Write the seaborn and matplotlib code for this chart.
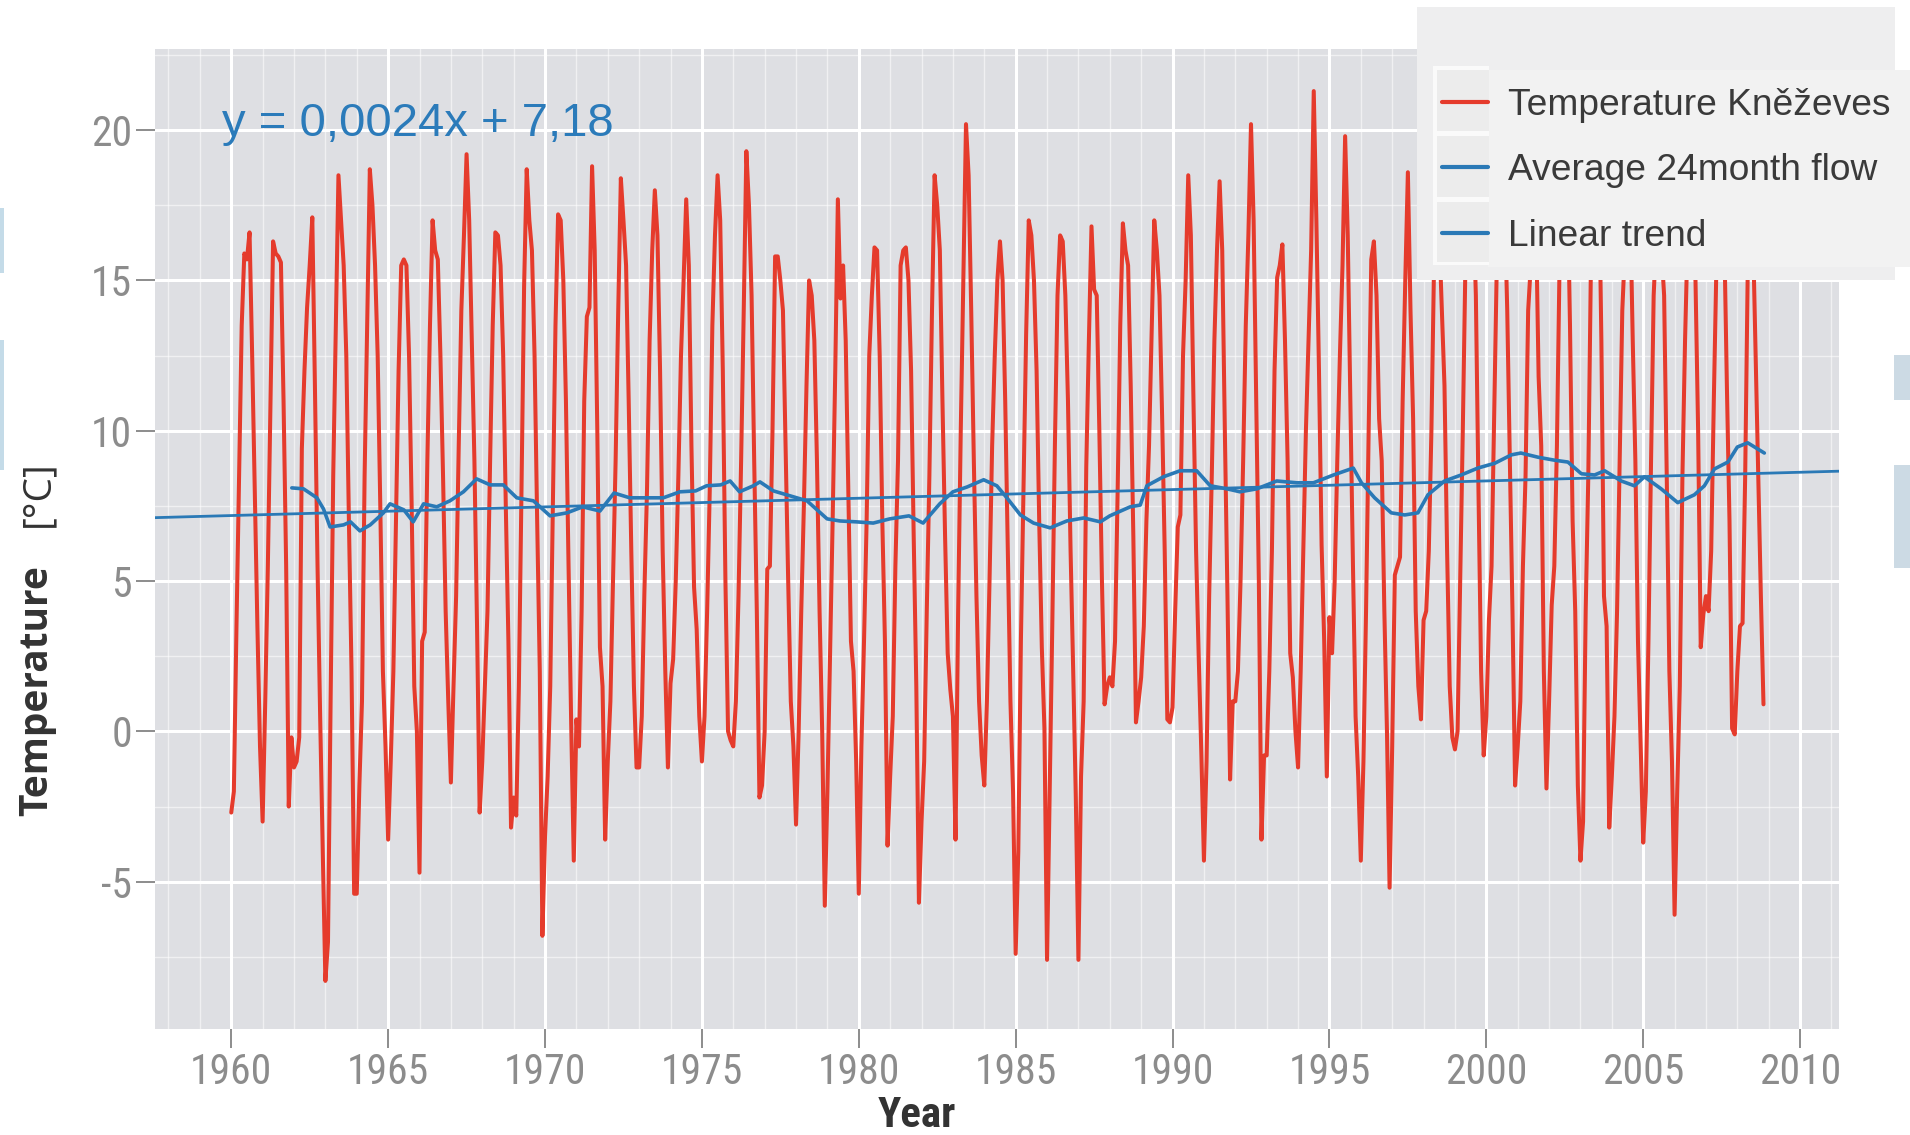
import matplotlib
matplotlib.use("Agg")
import numpy as np
import pandas as pd
import matplotlib.pyplot as plt
import seaborn as sns
from matplotlib import font_manager
from matplotlib.patches import Rectangle

# ---------------- data (monthly mean temperature, Jan 1960 .. Nov 2008) ----------------
START_YEAR = 1960

temp_1960s = [
    -2.7, -2.0, 3.5, 8.5, 13.5, 15.9, 15.7, 16.6, 12.5, 8.0, 3.5, -0.5,
    -3.0, 1.0, 5.5, 10.8, 16.3, 15.9, 15.8, 15.6, 11.0, 5.5, -2.5, -0.2,
    -1.2, -1.0, -0.2, 9.4, 12.0, 14.1, 15.5, 17.1, 11.5, 5.5, 0.5, -4.0,
    -8.3, -7.0, 1.0, 8.5, 13.5, 18.5, 17.0, 15.5, 12.5, 7.0, 2.0, -5.4,
    -5.4, -1.8, 1.0, 8.5, 13.5, 18.7, 17.5, 15.5, 12.5, 7.5, 2.0, -0.5,
    -3.6, -1.0, 2.0, 7.0, 12.0, 15.5, 15.7, 15.5, 12.5, 7.5, 1.5, 0.0,
    -4.7, 3.0, 3.3, 9.0, 13.5, 17.0, 16.0, 15.7, 12.5, 8.5, 4.0, 1.0,
    -1.7, 1.5, 4.5, 9.5, 14.0, 16.5, 19.2, 17.0, 13.0, 9.0, 3.5, -2.7,
    -1.0, 1.5, 4.0, 9.0, 13.5, 16.6, 16.5, 15.5, 12.5, 7.5, 3.0, -3.2,
    -2.2, -2.8, 1.5, 8.0, 14.8, 18.7, 17.0, 16.0, 12.5, 7.0, 2.0, -6.8,
]
temp_1970s = [
    -3.5, -1.5, 1.5, 7.5, 13.5, 17.2, 17.0, 15.0, 11.0, 5.5, 0.3, -4.3,
    0.4, -0.5, 4.0, 11.0, 13.8, 14.1, 18.8, 16.0, 10.0, 2.8, 1.5, -3.6,
    -1.0, 1.0, 5.0, 9.0, 14.0, 18.4, 17.0, 15.5, 11.0, 6.0, 1.5, -1.2,
    -1.2, 0.5, 4.6, 8.0, 13.0, 16.0, 18.0, 16.5, 12.0, 6.0, 2.0, -1.2,
    1.6, 2.4, 5.0, 8.5, 12.5, 15.0, 17.7, 15.5, 9.5, 4.8, 3.4, 0.5,
    -1.0, 0.5, 4.0, 8.0, 13.5, 16.5, 18.5, 17.0, 12.0, 5.0, 0.0, -0.3,
    -0.5, 1.0, 4.5, 9.0, 14.0, 19.3, 17.5, 14.5, 9.0, 4.0, -2.2, -1.8,
    0.0, 5.4, 5.5, 10.0, 15.8, 15.8, 15.0, 14.0, 9.5, 5.0, 1.0, -0.5,
    -3.1, 0.0, 4.0, 7.5, 11.5, 15.0, 14.5, 13.0, 9.0, 4.0, 0.0, -5.8,
    -2.0, 2.5, 7.0, 12.0, 17.7, 14.4, 15.5, 13.0, 8.0, 3.0, 2.0, -1.0,
]
temp_1980s = [
    -5.4, -0.5, 3.0, 7.0, 12.5, 14.5, 16.1, 16.0, 12.5, 7.0, 3.0, -3.8,
    -1.5, 0.5, 5.5, 9.0, 15.5, 16.0, 16.1, 15.0, 12.0, 6.5, 1.5, -5.7,
    -3.0, -1.0, 4.0, 8.5, 14.0, 18.5, 17.5, 16.0, 11.0, 6.5, 2.6, 1.4,
    0.5, -3.6, 4.0, 10.0, 15.0, 20.2, 18.5, 14.0, 9.0, 4.5, 1.0, -0.8,
    -1.8, 1.0, 5.0, 9.5, 12.5, 15.0, 16.3, 15.0, 11.0, 6.0, 1.0, -2.0,
    -7.4, -4.0, 3.0, 8.0, 13.2, 17.0, 16.5, 15.0, 12.0, 7.0, 2.8, 0.1,
    -7.6, -2.0, 3.5, 9.5, 14.5, 16.5, 16.3, 14.5, 11.0, 6.0, 2.0, -2.2,
    -7.6, -1.5, 1.0, 8.8, 13.0, 16.8, 14.7, 14.5, 10.0, 5.0, 0.9, 1.5,
    1.8, 1.5, 3.0, 8.0, 13.5, 16.9, 16.0, 15.5, 11.5, 6.5, 0.3, 1.0,
    1.8, 3.5, 7.0, 9.5, 13.3, 17.0, 16.0, 14.5, 10.5, 6.0, 0.4, 0.3,
]
temp_1990s = [
    0.8, 4.0, 6.8, 7.2, 12.5, 15.0, 18.5, 16.5, 11.0, 6.0, 2.5, -0.7,
    -4.3, -1.0, 4.5, 8.5, 13.0, 16.0, 18.3, 16.0, 10.0, 4.5, -1.6, 1.0,
    1.0, 2.0, 5.0, 9.0, 13.5, 16.5, 20.2, 17.0, 11.0, 5.0, -3.6, -0.8,
    -0.8, 2.0, 6.0, 12.0, 15.1, 15.5, 16.2, 13.0, 9.0, 2.6, 1.8, 0.0,
    -1.2, 2.0, 6.0, 10.0, 13.0, 16.0, 21.3, 17.0, 12.0, 6.2, 3.0, -1.5,
    3.8, 2.6, 5.0, 9.0, 12.5, 15.5, 19.8, 16.5, 11.0, 5.5, 0.5, -1.5,
    -4.3, -1.0, 4.0, 10.0, 15.7, 16.3, 14.5, 10.4, 9.0, 4.0, 0.0, -5.2,
    -0.5, 5.2, 5.5, 5.8, 11.0, 15.0, 18.6, 14.0, 10.4, 4.0, 1.5, 0.4,
    3.7, 4.0, 6.0, 10.0, 15.5, 17.0, 16.5, 14.0, 11.5, 6.0, 1.5, -0.2,
    -0.6, 0.0, 5.0, 10.0, 15.5, 17.0, 18.5, 17.5, 14.5, 8.0, 2.0, -0.8,
]
temp_2000s = [
    0.5, 3.7, 5.5, 10.5, 15.5, 17.5, 16.5, 17.5, 14.0, 9.0, 4.0, -1.8,
    -0.5, 1.0, 5.5, 8.5, 14.0, 15.5, 17.5, 17.0, 11.8, 9.5, 2.0, -1.9,
    1.0, 4.2, 5.5, 9.5, 15.5, 17.5, 18.0, 18.5, 13.5, 7.0, 4.0, -1.8,
    -4.3, -3.0, 4.0, 8.5, 15.5, 18.5, 18.0, 19.0, 13.0, 4.5, 3.5, -3.2,
    -1.5, 0.5, 4.0, 9.0, 14.0, 16.0, 17.0, 17.5, 13.0, 9.0, 3.0, -0.3,
    -3.7, -2.0, 3.0, 9.0, 14.5, 16.5, 17.5, 16.0, 14.5, 8.5, 2.0, -1.0,
    -6.1, -2.0, 1.5, 8.5, 13.0, 16.5, 20.0, 15.5, 15.0, 10.0, 2.8, 3.9,
    4.5, 4.0, 6.0, 11.0, 15.5, 17.5, 17.5, 16.5, 11.5, 7.0, 0.1, -0.1,
    2.0, 3.5, 3.6, 8.5, 15.5, 17.5, 16.5, 12.5, 8.5, 4.5, 0.9,
]

# 24-month moving average (decimal year, value)
avg_years = [
    1961.93, 1962.30, 1962.73, 1962.94, 1963.15, 1963.58, 1963.80, 1964.10, 1964.43, 1964.85,
    1965.06, 1965.50, 1965.80, 1966.13, 1966.55, 1966.97, 1967.40, 1967.82, 1968.25, 1968.67,
    1969.10, 1969.63, 1970.16, 1970.70, 1971.20, 1971.75, 1972.20, 1972.70, 1973.20, 1973.77,
    1974.30, 1974.80, 1975.15, 1975.60, 1975.90, 1976.20, 1976.64, 1976.85, 1977.28, 1977.70,
    1978.35, 1978.99, 1979.40, 1979.93, 1980.46, 1980.99, 1981.60, 1982.05, 1982.58, 1983.00,
    1983.45, 1983.98, 1984.40, 1984.72, 1985.15, 1985.57, 1986.10, 1986.63, 1987.17, 1987.70,
    1988.00, 1988.65, 1988.97, 1989.18, 1989.71, 1990.24, 1990.77, 1991.20, 1991.73, 1992.15,
    1992.69, 1993.32, 1993.96, 1994.49, 1995.13, 1995.76, 1996.02, 1996.44, 1996.97, 1997.40,
    1997.82, 1998.14, 1998.67, 1999.20, 1999.73, 2000.27, 2000.80, 2001.10, 2001.65, 2002.18,
    2002.60, 2003.03, 2003.45, 2003.77, 2004.30, 2004.72, 2005.04, 2005.57, 2006.10, 2006.63,
    2006.95, 2007.27, 2007.70, 2008.00, 2008.33, 2008.86,
]
avg_values = [
    8.10, 8.07, 7.77, 7.40, 6.80, 6.87, 6.97, 6.67, 6.87, 7.27,
    7.57, 7.37, 6.97, 7.57, 7.47, 7.67, 7.97, 8.40, 8.20, 8.20,
    7.77, 7.67, 7.17, 7.27, 7.47, 7.33, 7.93, 7.77, 7.77, 7.77,
    7.97, 8.00, 8.17, 8.20, 8.33, 7.97, 8.17, 8.30, 8.00, 7.87,
    7.67, 7.07, 7.00, 6.97, 6.93, 7.07, 7.17, 6.93, 7.57, 7.97,
    8.13, 8.37, 8.17, 7.77, 7.20, 6.93, 6.77, 7.00, 7.10, 6.97,
    7.17, 7.47, 7.53, 8.17, 8.47, 8.67, 8.67, 8.17, 8.07, 7.97,
    8.07, 8.33, 8.27, 8.27, 8.53, 8.76, 8.27, 7.77, 7.27, 7.20,
    7.27, 7.87, 8.33, 8.53, 8.76, 8.92, 9.20, 9.26, 9.12, 9.02,
    8.96, 8.57, 8.53, 8.67, 8.33, 8.17, 8.47, 8.07, 7.61, 7.87,
    8.17, 8.73, 8.96, 9.46, 9.60, 9.26,
]

# linear trend y = 0,0024x + 7,18 (x = months since Jan 1960)
trend_slope = 0.0024
trend_intercept = 7.18
trend_years = [1957.57, 2011.24]

x_ticks = [1960, 1965, 1970, 1975, 1980, 1985, 1990, 1995, 2000, 2005, 2010]
y_ticks = [-5, 0, 5, 10, 15, 20]
legend_labels = ["Temperature Kněževes", "Average 24month flow", "Linear trend"]
equation_text = "y = 0,0024x + 7,18"

# ---------------- frames ----------------
temp = temp_1960s + temp_1970s + temp_1980s + temp_1990s + temp_2000s
months = np.arange(len(temp))
df_temp = pd.DataFrame({"Year": START_YEAR + months / 12.0, "Temperature": temp})
df_avg = pd.DataFrame({"Year": avg_years, "Temperature": avg_values})
tm = (np.array(trend_years) - START_YEAR) * 12.0
df_trend = pd.DataFrame({"Year": trend_years, "Temperature": trend_slope * tm + trend_intercept})

# ---------------- style ----------------
sns.set_theme(style="darkgrid")
installed = {f.name for f in font_manager.fontManager.ttflist}
cond = next((f for f in ["Liberation Sans Narrow", "Roboto Condensed", "Open Sans Condensed",
                         "Arial Narrow"] if f in installed), None)
if cond:
    tick_family, tick_size = [cond, "DejaVu Sans"], 30
    year_family, year_size = [cond, "DejaVu Sans"], 31
else:
    tick_family, tick_size = ["DejaVu Sans"], 22
    year_family, year_size = ["DejaVu Sans"], 24
plt.rcParams["font.family"] = ["Liberation Sans", "DejaVu Sans"]
plt.rcParams["axes.unicode_minus"] = False

W, H = 1910, 1135
fig = plt.figure(figsize=(W / 100, H / 100), dpi=100, facecolor="white")
ax = fig.add_axes([155 / W, 1 - 1029 / H, (1839 - 155) / W, (1029 - 49) / H])

RED = "#e53b2c"
BLUE = "#2a79b6"

sns.lineplot(data=df_temp, x="Year", y="Temperature", ax=ax, color=RED, lw=2.9,
             label=legend_labels[0], sort=False, zorder=3)
sns.lineplot(data=df_avg, x="Year", y="Temperature", ax=ax, color=BLUE, lw=2.6,
             label=legend_labels[1], sort=False, zorder=4)
sns.lineplot(data=df_trend, x="Year", y="Temperature", ax=ax, color=BLUE, lw=2.0,
             label=legend_labels[2], sort=False, zorder=4)
handles, labels = ax.get_legend_handles_labels()
if ax.get_legend() is not None:
    ax.get_legend().remove()

ax.set_facecolor("#dedfe3")
for s in ax.spines.values():
    s.set_visible(False)
ax.set_xlim(1957.57, 2011.24)
ax.set_ylim(-9.9, 22.7)
ax.set_xticks(x_ticks)
ax.set_xticks(np.arange(1958, 2012, 1), minor=True)
ax.set_yticks(y_ticks)
ax.set_yticks(np.arange(-7.5, 23, 5), minor=True)
ax.grid(which="major", color="white", lw=2.2)
ax.grid(which="minor", color="white", lw=1.0, alpha=0.55)
ax.set_axisbelow(True)
ax.tick_params(which="minor", length=0)
ax.tick_params(which="major", length=13.5, width=1.4, color="#8c8c8c",
               labelcolor="#8c8c8c", pad=3, labelsize=tick_size,
               bottom=True, left=True)
for lab in ax.get_xticklabels() + ax.get_yticklabels():
    lab.set_fontfamily(tick_family)
ax.set_xlabel("")
ax.set_ylabel("")

# axis titles
fig.text(37 / W, 1 - 691 / H, "Temperature", rotation=90, ha="center", va="center",
         fontsize=28, fontweight="bold", family=["Open Sans", "DejaVu Sans"], color="#333333")
fig.text(38 / W, 1 - 494 / H, "[°C]", rotation=90, ha="center", va="center",
         fontsize=28, family=["Open Sans", "DejaVu Sans"], color="#333333")
fig.text(917 / W, 1 - 1127 / H, "Year", ha="center", va="baseline",
         fontsize=year_size, fontweight="bold", family=year_family, color="#333333")

# regression equation
fig.text(222 / W, 1 - 136 / H, equation_text, ha="left", va="baseline",
         fontsize=34, color="#2b7bba", family=["Liberation Sans", "DejaVu Sans"])


def fig_rect(x0, y0, x1, y1, color, z):
    fig.add_artist(Rectangle((x0 / W, 1 - y1 / H), (x1 - x0) / W, (y1 - y0) / H,
                             transform=fig.transFigure, facecolor=color,
                             edgecolor="none", zorder=z))


# legend background boxes (outer box, key column, label area)
fig_rect(1417, 7, 1895, 280, "#eeeeef", 8)
fig_rect(1488, 70, 1910, 267, "#f2f2f2", 8.2)
fig_rect(1433, 66, 1489, 265, "#fafafa", 8.2)
for (k0, k1) in [(70, 131), (136, 197), (202, 262)]:
    fig_rect(1437, k0, 1489, k1, "#ececec", 8.3)

LEG_FS = 26.7
leg = fig.legend(handles, labels, loc="upper left",
                 bbox_to_anchor=(1442 / W, 1 - 88 / H), bbox_transform=fig.transFigure,
                 frameon=False, prop={"family": ["Liberation Sans", "DejaVu Sans"], "size": LEG_FS},
                 handlelength=1.24, handletextpad=0.53, labelspacing=0.82,
                 borderpad=0, borderaxespad=0)
leg.set_zorder(9)
for t in leg.get_texts():
    t.set_color("#3a3a3a")
for ln in leg.get_lines():
    ln.set_linewidth(3.0)

# cropping remnants at the picture edges
fig_rect(0, 208, 4, 273, "#c4dbe8", 1)
fig_rect(0, 340, 4, 470, "#c4dbe8", 1)
fig_rect(1894, 355, 1910, 400, "#ccdae4", 1)
fig_rect(1894, 465, 1910, 568, "#ccdae4", 1)

fig.savefig("out.png", dpi=100, facecolor="white")
